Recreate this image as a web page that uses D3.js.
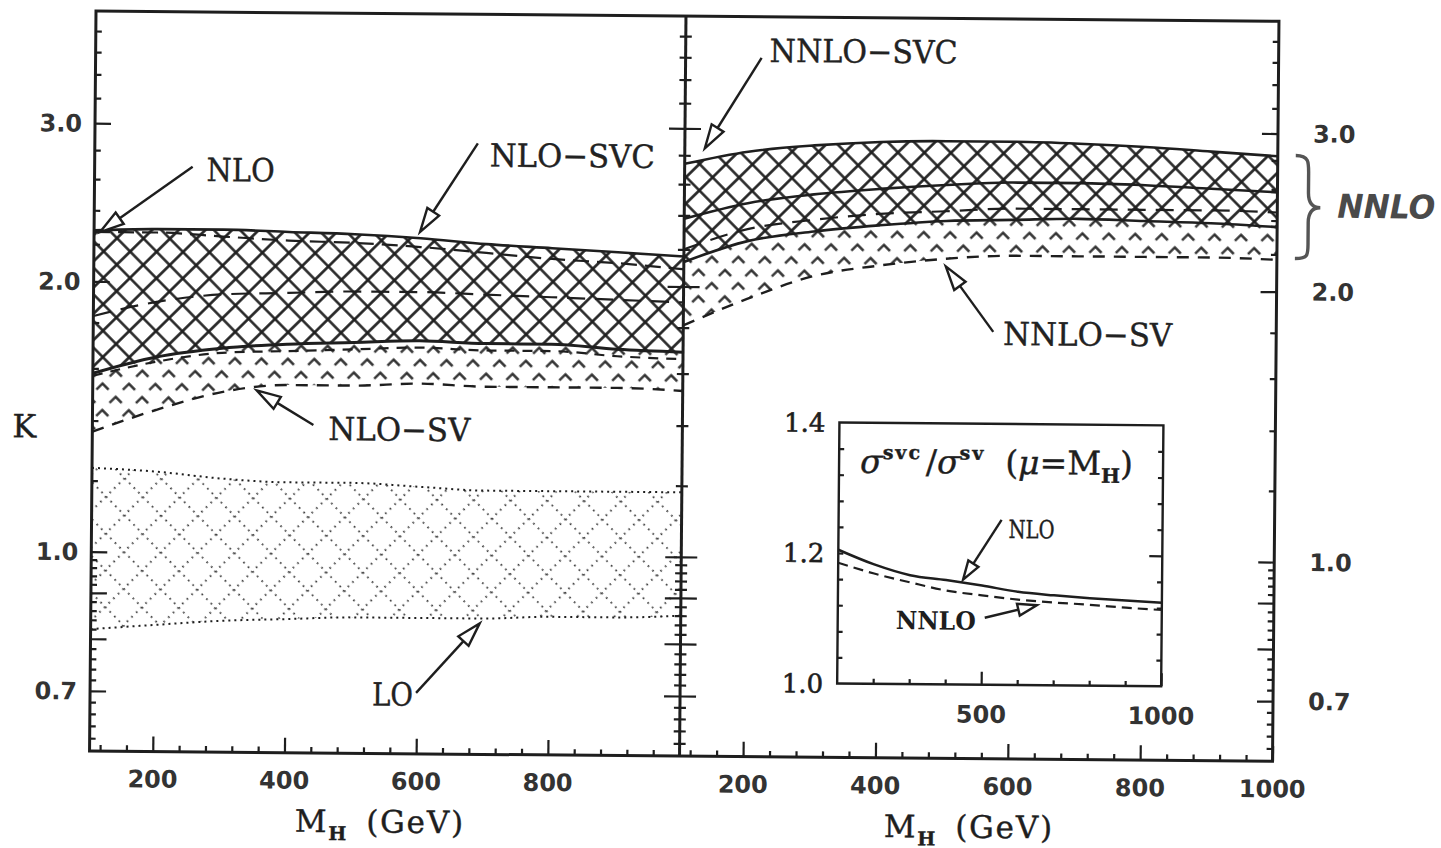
<!DOCTYPE html>
<html>
<head>
<meta charset="utf-8">
<script src="https://cdn.jsdelivr.net/npm/d3@7"></script>
<style>
  body { margin: 0; background: #fff; }
  .tick-lab { font-family: "DejaVu Sans", sans-serif; font-weight: bold; font-size: 24px; fill: #333; }
  .note { font-family: "DejaVu Serif", serif; font-size: 32px; fill: #222; stroke: #222; stroke-width: 0.4; }
</style>
</head>
<body>
<div id="chart"></div>
<script>
// ---- data ----
const mh = [104, 200, 300, 400, 500, 600, 700, 800, 900, 1000];

// left panel (NLO)
const nloSvcHi = [2.28, 2.29, 2.29, 2.28, 2.27, 2.25, 2.22, 2.20, 2.18, 2.16];
const nloSvcLo = [1.58, 1.65, 1.69, 1.71, 1.72, 1.73, 1.72, 1.72, 1.70, 1.69];
const nloSvHi  = [1.83, 1.90, 1.94, 1.95, 1.96, 1.96, 1.95, 1.94, 1.93, 1.92];
const nloSvLo  = [1.36, 1.44, 1.51, 1.54, 1.54, 1.55, 1.54, 1.54, 1.54, 1.53];
const nloHi    = [2.27, 2.27, 2.25, 2.23, 2.22, 2.20, 2.17, 2.14, 2.12, 2.09];
const nloLo    = [1.57, 1.63, 1.67, 1.68, 1.69, 1.70, 1.69, 1.69, 1.67, 1.66];
const loHi     = [1.24, 1.23, 1.21, 1.20, 1.20, 1.19, 1.18, 1.18, 1.18, 1.18];
const loLo     = [0.82, 0.83, 0.84, 0.845, 0.85, 0.85, 0.85, 0.855, 0.855, 0.86];

// right panel (NNLO)
const nnloSvcHi = [2.74, 2.83, 2.88, 2.91, 2.92, 2.92, 2.91, 2.89, 2.86, 2.83];
const nnloMid   = [2.38, 2.48, 2.54, 2.58, 2.61, 2.63, 2.63, 2.62, 2.60, 2.58];
const nnloSvcLo = [2.13, 2.25, 2.31, 2.35, 2.38, 2.39, 2.40, 2.39, 2.38, 2.36];
const nnloSvHi  = [2.20, 2.32, 2.38, 2.42, 2.44, 2.46, 2.46, 2.46, 2.46, 2.45];
const nnloSvLo  = [1.81, 1.94, 2.06, 2.12, 2.16, 2.18, 2.18, 2.18, 2.18, 2.17];

// inset: sigma^svc / sigma^sv
const insetMh   = [100, 200, 300, 400, 500, 600, 700, 800, 900, 1000];
const ratioNlo  = [1.205, 1.183, 1.167, 1.160, 1.152, 1.143, 1.138, 1.134, 1.131, 1.128];
const ratioNnlo = [1.185, 1.169, 1.156, 1.144, 1.137, 1.131, 1.127, 1.124, 1.120, 1.117];

// tick labels
const kTicks = [0.7, 1.0, 2.0, 3.0];
const kMajor = [0.7, 0.8, 0.9, 1.0, 2.0, 3.0];
const mhTicksL = [200, 400, 600, 800];
const mhTicksR = [200, 400, 600, 800, 1000];
const insetKTicks = [1.0, 1.2, 1.4];
const insetMhTicks = [500, 1000];

// ---- layout ----
const W = 1441, H = 848;
const fT = 11, fB = 751, fL = 96, fM = 686, fR = 1279;
const ink = "#1e1e1e";

const svg = d3.select("#chart").append("svg")
  .attr("width", W).attr("height", H)
  .style("background", "#fff");
const defs = svg.append("defs");
// the scanned page is turned a little
const g = svg.append("g").attr("transform", "rotate(0.5," + fL + "," + fT + ")");

const y = d3.scaleLog().domain([0.6, 4.0]).range([fB, fT]);
const xL = d3.scaleLinear().domain([104, 1000]).range([fL, fM]);
const xR = d3.scaleLinear().domain([104, 1000]).range([fM, fR]);

// hatch patterns
const hatch = defs.append("pattern").attr("id", "xhatch")
  .attr("patternUnits", "userSpaceOnUse").attr("width", 18.7).attr("height", 18.7)
  .attr("patternTransform", "rotate(45)");
hatch.append("path").attr("d", "M0,9.35H18.7M9.35,0V18.7")
  .attr("stroke", ink).attr("stroke-width", 2.6);

const svh = defs.append("pattern").attr("id", "svhatch")
  .attr("patternUnits", "userSpaceOnUse").attr("width", 18.7).attr("height", 18.7)
  .attr("patternTransform", "rotate(45)");
svh.append("path").attr("d", "M18,9.35H9.35V18")
  .attr("stroke", "#2a2a2a").attr("stroke-width", 2.3).attr("fill", "none");

const dots = defs.append("pattern").attr("id", "dots")
  .attr("patternUnits", "userSpaceOnUse").attr("width", 26).attr("height", 26)
  .attr("patternTransform", "rotate(45)");
dots.append("path").attr("d", "M0,13H26M13,0V26")
  .attr("stroke", "#444").attr("stroke-width", 2.2).attr("stroke-dasharray", "1.6 4.9");

defs.append("clipPath").attr("id", "clipL").append("rect")
  .attr("x", fL).attr("y", fT).attr("width", fM - fL).attr("height", fB - fT);
defs.append("clipPath").attr("id", "clipR").append("rect")
  .attr("x", fM).attr("y", fT).attr("width", fR - fM).attr("height", fB - fT);

function band(hi, lo) { return mh.map((m, i) => ({ m: m, hi: hi[i], lo: lo[i] })); }
function series(v) { return mh.map((m, i) => ({ m: m, v: v[i] })); }

function drawBand(p, x, data, fill, white) {
  const area = d3.area().x(d => x(d.m)).y0(d => y(d.lo)).y1(d => y(d.hi)).curve(d3.curveMonotoneX);
  if (white) p.append("path").attr("d", area(data)).attr("fill", "#fff");
  p.append("path").attr("d", area(data)).attr("fill", fill);
}
function drawLine(p, x, vals, dash, w) {
  const line = d3.line().x(d => x(d.m)).y(d => y(d.v)).curve(d3.curveMonotoneX);
  p.append("path").attr("d", line(series(vals)))
    .attr("fill", "none").attr("stroke", ink).attr("stroke-width", w || 2.6)
    .attr("stroke-dasharray", dash || null);
}

// ---- left panel ----
const pL = g.append("g").attr("clip-path", "url(#clipL)");
drawBand(pL, xL, band(loHi, loLo), "url(#dots)", false);
drawLine(pL, xL, loHi, "2 4", 2);
drawLine(pL, xL, loLo, "2 4", 2);
drawBand(pL, xL, band(nloSvHi, nloSvLo), "url(#svhatch)", false);
drawBand(pL, xL, band(nloSvcHi, nloSvcLo), "url(#xhatch)", true);
drawLine(pL, xL, nloSvcHi);
drawLine(pL, xL, nloSvcLo, null, 3);
drawLine(pL, xL, nloHi, "16 8", 2.2);
drawLine(pL, xL, nloLo, "10 8", 2.2);
drawLine(pL, xL, nloSvHi, "18 10", 2.2);
drawLine(pL, xL, nloSvLo, "12 9", 2.4);

// ---- right panel ----
const pR = g.append("g").attr("clip-path", "url(#clipR)");
drawBand(pR, xR, band(nnloSvHi, nnloSvLo), "url(#svhatch)", false);
drawBand(pR, xR, band(nnloSvcHi, nnloSvcLo), "url(#xhatch)", true);
drawLine(pR, xR, nnloSvcHi);
drawLine(pR, xR, nnloMid);
drawLine(pR, xR, nnloSvcLo);
drawLine(pR, xR, nnloSvHi, "18 10", 2.2);
drawLine(pR, xR, nnloSvLo, "12 9", 2.4);

// ---- frame and ticks ----
g.append("rect").attr("x", fL).attr("y", fT).attr("width", fR - fL).attr("height", fB - fT)
  .attr("fill", "none").attr("stroke", ink).attr("stroke-width", 3);
g.append("line").attr("x1", fM).attr("x2", fM).attr("y1", fT).attr("y2", fB)
  .attr("stroke", ink).attr("stroke-width", 3);

const kMinor = [].concat(
  d3.range(31, 50).filter(i => i % 5 !== 0).map(i => i * 0.02),
  [1.2, 1.4, 1.6, 1.8, 2.2, 2.4, 2.6, 2.8, 3.2, 3.4, 3.6, 3.8]);
const mhMinor = d3.range(3, 25).filter(i => i % 5 !== 0).map(i => i * 40);

function tickGroup(axis, tx, ty) {
  g.append("g").attr("transform", "translate(" + tx + "," + ty + ")")
    .call(axis)
    .call(s => s.select(".domain").remove())
    .selectAll("line").attr("stroke", ink).attr("stroke-width", 2.2);
}
tickGroup(d3.axisRight(y).tickValues(kMajor).tickSize(16).tickFormat(""), fL, 0);
tickGroup(d3.axisRight(y).tickValues(kMinor).tickSize(6).tickFormat(""), fL, 0);
tickGroup(d3.axisRight(y).tickValues(kMajor).tickSize(16).tickFormat(""), fM, 0);
tickGroup(d3.axisLeft(y).tickValues(kMajor).tickSize(16).tickFormat(""), fM, 0);
tickGroup(d3.axisRight(y).tickValues(kMinor).tickSize(6).tickFormat(""), fM, 0);
tickGroup(d3.axisLeft(y).tickValues(kMinor).tickSize(6).tickFormat(""), fM, 0);
tickGroup(d3.axisLeft(y).tickValues(kMajor).tickSize(16).tickFormat(""), fR, 0);
tickGroup(d3.axisLeft(y).tickValues(kMinor).tickSize(6).tickFormat(""), fR, 0);
tickGroup(d3.axisTop(xL).tickValues(mhTicksL).tickSize(15).tickFormat(""), 0, fB);
tickGroup(d3.axisTop(xL).tickValues(mhMinor).tickSize(6).tickFormat(""), 0, fB);
tickGroup(d3.axisTop(xR).tickValues(mhTicksR).tickSize(15).tickFormat(""), 0, fB);
tickGroup(d3.axisTop(xR).tickValues(mhMinor).tickSize(6).tickFormat(""), 0, fB);

// tick labels
g.selectAll(".klab-l").data(kTicks).enter().append("text")
  .attr("class", "tick-lab").attr("x", 83).attr("y", d => y(d)).attr("dy", "0.36em")
  .attr("text-anchor", "end").text(d => d.toFixed(1));
g.selectAll(".klab-r").data(kTicks).enter().append("text")
  .attr("class", "tick-lab").attr("x", 1314).attr("y", d => y(d)).attr("dy", "0.36em")
  .attr("text-anchor", "start").text(d => d.toFixed(1));
g.selectAll(".mlab-l").data(mhTicksL).enter().append("text")
  .attr("class", "tick-lab").attr("x", d => xL(d)).attr("y", 787)
  .attr("text-anchor", "middle").text(d => d);
g.selectAll(".mlab-r").data(mhTicksR).enter().append("text")
  .attr("class", "tick-lab").attr("x", d => xR(d)).attr("y", 787)
  .attr("text-anchor", "middle").text(d => d);

// axis titles
function mhTitle(x0) {
  const t = g.append("text").attr("x", x0).attr("y", 830)
    .attr("font-family", "DejaVu Serif, serif").attr("font-size", 31).attr("fill", ink)
    .attr("stroke", ink).attr("stroke-width", 0.4).attr("letter-spacing", 1.8);
  t.append("tspan").text("M");
  t.append("tspan").attr("font-size", 19).attr("font-weight", "bold").attr("dy", 8).text("H");
  t.append("tspan").attr("dy", -8).attr("dx", 18).text("(GeV)");
}
mhTitle(302);
mhTitle(891);
g.append("text").attr("x", 28).attr("y", 438).attr("text-anchor", "middle")
  .attr("font-family", "DejaVu Serif, serif").attr("font-size", 32).attr("fill", ink)
  .attr("stroke", ink).attr("stroke-width", 0.4).text("K");

// ---- annotations with open arrow heads ----
function arrow(x1, y1, x2, y2, L, hw) {
  const dx = x2 - x1, dy = y2 - y1, d = Math.hypot(dx, dy), ux = dx / d, uy = dy / d;
  const bx = x2 - ux * L, by = y2 - uy * L;
  g.append("line").attr("x1", x1).attr("y1", y1).attr("x2", bx).attr("y2", by)
    .attr("stroke", ink).attr("stroke-width", 2.4);
  g.append("path")
    .attr("d", "M" + x2 + "," + y2 + "L" + (bx - uy * hw) + "," + (by + ux * hw) +
               "L" + (bx + uy * hw) + "," + (by - ux * hw) + "Z")
    .attr("fill", "#fff").attr("stroke", ink).attr("stroke-width", 2.4);
}
const notes = [
  { t: "NLO",      x: 208,  y: 180, w: 68,  a: [194, 166, 102, 232] },
  { t: "NLO−SVC",  x: 491,  y: 163, w: 165, a: [479, 140, 422, 229] },
  { t: "NLO−SV",   x: 332,  y: 438, w: 142, a: [317, 423, 260, 389] },
  { t: "LO",       x: 378,  y: 703, w: 41,  a: [422, 690, 485, 620] },
  { t: "NNLO−SVC", x: 770,  y: 56,  w: 188, a: [762, 52, 706, 143] },
  { t: "NNLO−SV",  x: 1006, y: 337, w: 169, a: [996, 324, 948, 259] }
];
notes.forEach(n => {
  g.append("text").attr("class", "note").attr("x", n.x).attr("y", n.y)
    .attr("textLength", n.w).attr("lengthAdjust", "spacingAndGlyphs").text(n.t);
  arrow(n.a[0], n.a[1], n.a[2], n.a[3], 24, 7);
});

// NNLO brace (hand drawn)
g.append("path")
  .attr("d", "M1297,145 C1311,145 1310,152 1310,166 L1310,182 C1310,192 1314,197 1322,197 " +
             "C1314,197 1310,202 1310,212 L1310,231 C1310,244 1311,248 1297,248")
  .attr("fill", "none").attr("stroke", "#555").attr("stroke-width", 3.4);
g.append("text").attr("x", 1339).attr("y", 207)
  .attr("font-family", "DejaVu Sans, sans-serif").attr("font-weight", "bold").attr("font-style", "italic")
  .attr("font-size", 33).attr("fill", "#4a4a4a")
  .attr("textLength", 98).attr("lengthAdjust", "spacingAndGlyphs").text("NNLO");

// ---- inset ----
const iL = 843, iR = 1167, iT = 416, iB = 677;
const xi = d3.scaleLinear().domain([100, 1000]).range([iL, iR]);
const yi = d3.scaleLinear().domain([1.0, 1.4]).range([iB, iT]);
g.append("rect").attr("x", iL).attr("y", iT).attr("width", iR - iL).attr("height", iB - iT)
  .attr("fill", "#fff").attr("stroke", ink).attr("stroke-width", 2.4);

const iyMinor = d3.range(1, 10).filter(i => i !== 5).map(i => 1 + i * 0.04);
const ixMinor = d3.range(2, 10).filter(i => i !== 5).map(i => i * 100);
tickGroup(d3.axisRight(yi).tickValues(iyMinor).tickSize(5).tickFormat(""), iL, 0);
tickGroup(d3.axisRight(yi).tickValues([1.2]).tickSize(5).tickFormat(""), iL, 0);
tickGroup(d3.axisLeft(yi).tickValues(iyMinor).tickSize(5).tickFormat(""), iR, 0);
tickGroup(d3.axisLeft(yi).tickValues([1.2]).tickSize(13).tickFormat(""), iR, 0);
tickGroup(d3.axisTop(xi).tickValues(ixMinor).tickSize(5).tickFormat(""), 0, iB);
tickGroup(d3.axisTop(xi).tickValues(insetMhTicks).tickSize(13).tickFormat(""), 0, iB);

g.selectAll(".iylab").data(insetKTicks).enter().append("text")
  .attr("x", 829).attr("y", d => yi(d)).attr("dy", "0.36em").attr("text-anchor", "end")
  .attr("font-family", "DejaVu Serif, serif").attr("font-size", 26).attr("fill", ink)
  .attr("stroke", ink).attr("stroke-width", 0.6)
  .text(d => d.toFixed(1));
g.selectAll(".ixlab").data(insetMhTicks).enter().append("text")
  .attr("class", "tick-lab").attr("x", d => xi(d)).attr("y", 715).attr("text-anchor", "middle")
  .text(d => d);

const iline = d3.line().x((d, i) => xi(insetMh[i])).y(d => yi(d)).curve(d3.curveMonotoneX);
g.append("path").attr("d", iline(ratioNlo)).attr("fill", "none")
  .attr("stroke", ink).attr("stroke-width", 2.5);
g.append("path").attr("d", iline(ratioNnlo)).attr("fill", "none")
  .attr("stroke", ink).attr("stroke-width", 2.2).attr("stroke-dasharray", "10 6");

const ttl = g.append("text").attr("x", 864).attr("y", 466)
  .attr("font-family", "DejaVu Serif, serif").attr("font-size", 33).attr("fill", ink)
  .attr("stroke", ink).attr("stroke-width", 0.4);
ttl.append("tspan").attr("font-style", "italic").text("σ");
ttl.append("tspan").attr("font-size", 19).attr("font-weight", "bold").attr("dy", -14)
  .attr("letter-spacing", 2).text("svc");
ttl.append("tspan").attr("dy", 14).attr("dx", 4).text("/");
ttl.append("tspan").attr("font-style", "italic").text("σ");
ttl.append("tspan").attr("font-size", 19).attr("font-weight", "bold").attr("dy", -14)
  .attr("letter-spacing", 2).text("sv");
ttl.append("tspan").attr("dy", 14).attr("dx", 20).text("(");
ttl.append("tspan").attr("font-style", "italic").text("μ");
ttl.append("tspan").text("=M");
ttl.append("tspan").attr("font-size", 20).attr("font-weight", "bold").attr("dy", 8).text("H");
ttl.append("tspan").attr("dy", -8).text(")");

g.append("text").attr("x", 1013).attr("y", 530)
  .attr("font-family", "DejaVu Serif, serif").attr("font-size", 25).attr("fill", ink)
  .attr("stroke", ink).attr("stroke-width", 0.4)
  .attr("textLength", 46).attr("lengthAdjust", "spacingAndGlyphs").text("NLO");
arrow(1006, 512, 968, 572, 19, 6);
g.append("text").attr("x", 901).attr("y", 622)
  .attr("font-family", "DejaVu Serif, serif").attr("font-weight", "bold").attr("font-size", 25).attr("fill", ink)
  .attr("textLength", 80).attr("lengthAdjust", "spacingAndGlyphs").text("NNLO");
arrow(990, 610, 1042, 597, 19, 6);
</script>
</body>
</html>
